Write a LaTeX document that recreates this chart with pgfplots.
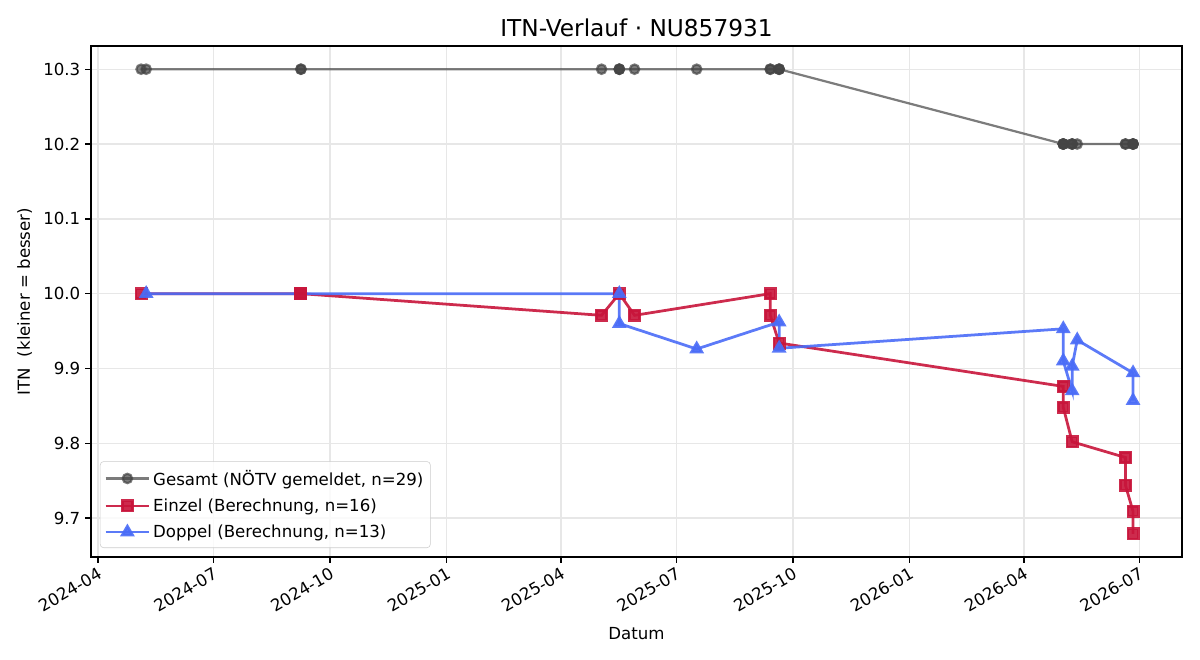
\documentclass[border=0pt]{standalone}
\usepackage{fontspec}
\setmainfont{DejaVu Sans}
\usepackage{pgfplots}
\pgfplotsset{compat=1.18}

\definecolor{gesamtcol}{HTML}{444444}
\definecolor{einzelcol}{HTML}{C8143A}
\definecolor{doppelcol}{HTML}{4A6CF7}
\definecolor{gridcol}{HTML}{B0B0B0}

\begin{document}
\begin{tikzpicture}
\begin{axis}[
  scale only axis,
  width=10.91in, height=5.11in,
  xmin=-5.5, xmax=854.6,
  ymin=9.648, ymax=10.331,
  font=\fontsize{12}{14.4}\selectfont,
  /pgf/number format/assume math mode=true,
  xtick={0,91,183,275,365,456,548,640,730,821},
  xticklabels={2024-04,2024-07,2024-10,2025-01,2025-04,2025-07,2025-10,2026-01,2026-04,2026-07},
  xticklabel style={rotate=30, anchor=north east, inner sep=2pt},
  ytick={9.7,9.8,9.9,10.0,10.1,10.2,10.3},
  yticklabel style={/pgf/number format/.cd, fixed, fixed zerofill, precision=1},
  tick pos=left,
  tick align=outside,
  major tick length=4.2pt,
  every tick/.style={black, line width=1pt},
  axis line style={line width=1pt},
  grid=major,
  major grid style={gridcol!30, line width=1pt},
  title={\fontsize{16.8}{20}\selectfont ITN-Verlauf · NU857931},
  title style={at={(axis description cs:0.5,1)}, anchor=center, yshift=7pt},
  xlabel={Datum},
  ylabel={ITN\ \ (kleiner = besser)},
  xlabel style={at={(axis description cs:0.5,0)}, anchor=center, yshift=-55pt},
  ylabel style={at={(axis description cs:0,0.5)}, anchor=center, yshift=48pt},
  legend style={at={(0.0082,0.0176)}, anchor=south west, draw=black!20,
    rounded corners=2.5pt, fill=white, fill opacity=0.8, text opacity=1,
    font=\fontsize{12}{14.4}\selectfont, row sep=4.3pt, inner xsep=3pt, inner ysep=4pt},
  legend cell align=left,
  legend image code/.code={
    \draw[mark repeat=2, mark phase=2] plot coordinates {(0cm,0cm) (0.55cm,0cm) (1.1cm,0cm)};
  },
]

% Gesamt (as reported)
\addplot[gesamtcol, opacity=0.7, line width=1.6pt,
  mark=*, mark size=3.4pt, mark options={solid, fill=gesamtcol}]
coordinates {
  (34,10.3) (38,10.3) (160,10.3) (160,10.3) (397,10.3)
  (411,10.3) (411,10.3) (411,10.3) (423,10.3) (472,10.3)
  (530,10.3) (530,10.3) (537,10.3) (537,10.3) (537,10.3)
  (761,10.2) (761,10.2) (761,10.2) (761,10.2)
  (768,10.2) (768,10.2) (768,10.2) (772,10.2)
  (810,10.2) (810,10.2)
  (816,10.2) (816,10.2) (816,10.2) (816,10.2)
};
\addlegendentry{Gesamt (NÖTV gemeldet, n=29)}

% Einzel (computed)
\addplot[einzelcol, opacity=0.9, line width=2pt,
  mark=square*, mark size=3.7pt, mark options={solid, fill=einzelcol}]
coordinates {
  (34,10.0) (160,10.0) (160,10.0) (397,9.971) (411,10.0) (423,9.971)
  (530,10.0) (530,9.971) (537,9.934)
  (761,9.876) (761,9.848) (768,9.802)
  (810,9.781) (810,9.744) (816,9.709) (816,9.679)
};
\addlegendentry{Einzel (Berechnung, n=16)}

% Doppel (computed)
\addplot[doppelcol, opacity=0.9, line width=2pt,
  mark=triangle*, mark size=4.2pt, mark options={solid, fill=doppelcol}]
coordinates {
  (38,10.0) (411,10.0) (411,9.96) (472,9.926)
  (537,9.962) (537,9.927)
  (761,9.953) (761,9.91) (768,9.87) (768,9.903) (772,9.938)
  (816,9.894) (816,9.857)
};
\addlegendentry{Doppel (Berechnung, n=13)}

\end{axis}
\pgfresetboundingbox
\path ([shift={(-0.91in,-1.03in)}]current axis.south west)
  rectangle ([shift={(11.09in,5.57in)}]current axis.south west);
\end{tikzpicture}
\end{document}
